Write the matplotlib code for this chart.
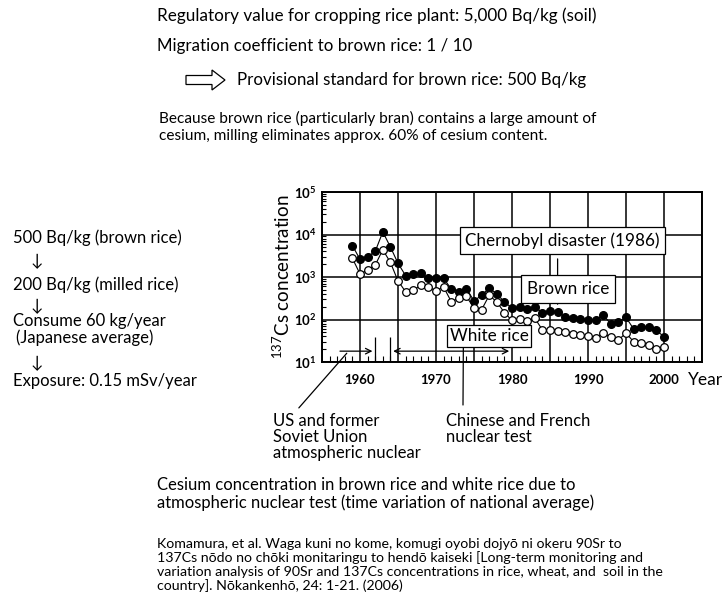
import matplotlib
matplotlib.use("Agg")
import matplotlib.pyplot as plt
from matplotlib.patches import FancyArrow
from matplotlib.ticker import FixedLocator, FuncFormatter, LogLocator, NullFormatter

plt.rcParams['font.family'] = ['Lato', 'DejaVu Sans']
plt.rcParams['mathtext.default'] = 'regular'

# 137Cs in rice, national averages (Bq/kg)
years = list(range(1959, 2001))
brown_rice = [5500, 2600, 3000, 4000, 11500, 5100, 2100, 1080, 1200, 1220,
              940, 940, 940, 520, 450, 530, 275, 370, 550, 400,
              260, 185, 198, 180, 200, 145, 160, 150, 115, 108,
              104, 100, 100, 125, 80, 86, 112, 60, 68, 68,
              56, 39]
white_rice = [2750, 1180, 1450, 1900, 4400, 2200, 810, 450, 490, 640,
              570, 480, 580, 265, 315, 350, 185, 170, 370, 260,
              145, 95, 102, 90, 107, 57, 58, 54, 52, 46,
              43, 41, 37, 48, 38, 33, 48, 30, 27.5, 24.5,
              20, 23]

# test periods
us_ussr_end = 1962
china_france = (1964, 1980)
chernobyl = 1986

W, H = 723, 598
fig = plt.figure(figsize=(W / 100, H / 100), dpi=100)

# overlay in pixel units for the free text around the chart
ov = fig.add_axes([0, 0, 1, 1])
ov.set_xlim(0, W)
ov.set_ylim(H, 0)
ov.axis('off')

def txt(x, y, s, size=12, **kw):
    ov.text(x, y, s, fontsize=size, va='center', ha='left', **kw)

txt(157, 16, "Regulatory value for cropping rice plant: 5,000 Bq/kg (soil)", 12.3)
txt(157, 46, "Migration coefficient to brown rice: 1 / 10", 12.2)
ov.add_patch(FancyArrow(186, 80, 26, 0, width=9, head_width=20, head_length=13,
                        length_includes_head=False, fc='white', ec='black', lw=0.9))
txt(237, 80, "Provisional standard for brown rice: 500 Bq/kg", 12.2)
ov.text(159, 127, "Because brown rice (particularly bran) contains a large amount of\n"
        "cesium, milling eliminates approx. 60% of cesium content.",
        fontsize=11.1, va='center', ha='left', linespacing=1.25)

txt(13, 238, "500 Bq/kg (brown rice)")
txt(31, 261, "↓")
txt(13, 285, "200 Bq/kg (milled rice)")
txt(31, 306, "↓")
txt(13, 321, "Consume 60 kg/year")
txt(16, 338, "(Japanese average)")
txt(31, 363, "↓")
txt(13, 381, "Exposure: 0.15 mSv/year")

ov.text(273, 437, "US and former\nSoviet Union\natmospheric nuclear",
        fontsize=12, va='center', ha='left', linespacing=1.0)
ov.text(446, 429, "Chinese and French\nnuclear test",
        fontsize=12, va='center', ha='left', linespacing=1.0)

ov.text(157, 494, "Cesium concentration in brown rice and white rice due to\n"
        "atmospheric nuclear test (time variation of national average)",
        fontsize=12, va='center', ha='left', linespacing=1.1)
ov.text(157, 565, "Komamura, et al. Waga kuni no kome, komugi oyobi dojyō ni okeru 90Sr to\n"
        "137Cs nōdo no chōki monitaringu to hendō kaiseki [Long-term monitoring and\n"
        "variation analysis of 90Sr and 137Cs concentrations in rice, wheat, and  soil in the\n"
        "country]. Nōkankenhō, 24: 1-21. (2006)",
        fontsize=10.2, va='center', ha='left', linespacing=1.1)

# the chart
ax = fig.add_axes([322 / W, (H - 362) / H, (702 - 322) / W, 170 / H])
ax.set_yscale('log')
ax.set_xlim(1955, 2005)
ax.set_ylim(10, 1e5)

ax.plot(years, brown_rice, '-o', color='black', lw=0.8, ms=5.5,
        mfc='black', mec='black', zorder=4)
ax.plot(years, white_rice, '-o', color='black', lw=0.8, ms=5.5,
        mfc='white', mec='black', mew=0.9, zorder=4)

ax.xaxis.set_major_locator(FixedLocator(range(1955, 2006, 5)))
ax.xaxis.set_minor_locator(FixedLocator(range(1955, 2006)))
ax.xaxis.set_major_formatter(FuncFormatter(
    lambda v, p: str(int(v)) if int(v) % 10 == 0 and 1960 <= v <= 2000 else ''))
ax.yaxis.set_major_locator(LogLocator(base=10, numticks=10))
ax.yaxis.set_minor_locator(LogLocator(base=10, subs=range(2, 10), numticks=10))
ax.yaxis.set_minor_formatter(NullFormatter())
ax.grid(True, which='major', color='black', lw=1.1)
ax.tick_params(which='both', direction='in', top=False, right=False,
               labelsize=9.5, color='black')
ax.tick_params(axis='x', which='major', length=0, pad=9)
ax.tick_params(axis='x', which='minor', length=4, width=0.8)
ax.tick_params(axis='y', which='major', length=0, pad=4)
ax.tick_params(axis='y', which='minor', length=3, width=0.8)
for lab in ax.get_xticklabels() + ax.get_yticklabels():
    lab.set_fontweight('bold')
for sp in ax.spines.values():
    sp.set_linewidth(1.4)

ax.set_ylabel("$^{137}$Cs concentration", fontsize=13.5, labelpad=1)
ax.text(0.963, -0.108, "Year", transform=ax.transAxes, fontsize=12.5,
        ha='left', va='center')

box = dict(boxstyle='square,pad=0.3', fc='white', ec='black', lw=0.9)
ax.annotate('', xy=(chernobyl, 185), xytext=(chernobyl, 3100),
            arrowprops=dict(arrowstyle='->', color='black', lw=0.9), zorder=5)
ax.text(1986.6, 7100, "Chernobyl disaster (1986)", fontsize=12.3,
        ha='center', va='center', bbox=box, zorder=6)
ax.text(1987.4, 510, "Brown rice", fontsize=12.3, ha='center', va='center',
        bbox=dict(boxstyle='square,pad=0.35', fc='white', ec='black', lw=0.9),
        zorder=6)
ax.text(1977, 41, "White rice", fontsize=12.3, ha='center', va='center',
        bbox=dict(boxstyle='square,pad=0.15', fc='white', ec='black', lw=0.9),
        zorder=6)

# nuclear test periods
arr = dict(color='black', lw=0.9)
ax.annotate('', xy=(us_ussr_end, 18), xytext=(1957, 18),
            arrowprops=dict(arrowstyle='->', **arr))
ax.annotate('', xy=(china_france[0], 18), xytext=(china_france[1], 18),
            arrowprops=dict(arrowstyle='<->', **arr))
ax.vlines([us_ussr_end, china_france[0]], 10, 39, color='black', lw=0.9)
ax.annotate('', xy=(1958.5, 18), xytext=(297, H - 410),
            textcoords='figure pixels', annotation_clip=False,
            arrowprops=dict(arrowstyle='-', **arr))
ax.annotate('', xy=(1973.6, 25), xytext=(463, H - 405),
            textcoords='figure pixels', annotation_clip=False,
            arrowprops=dict(arrowstyle='-', shrinkA=0, shrinkB=0, **arr))

fig.savefig('out.png', dpi=100)
